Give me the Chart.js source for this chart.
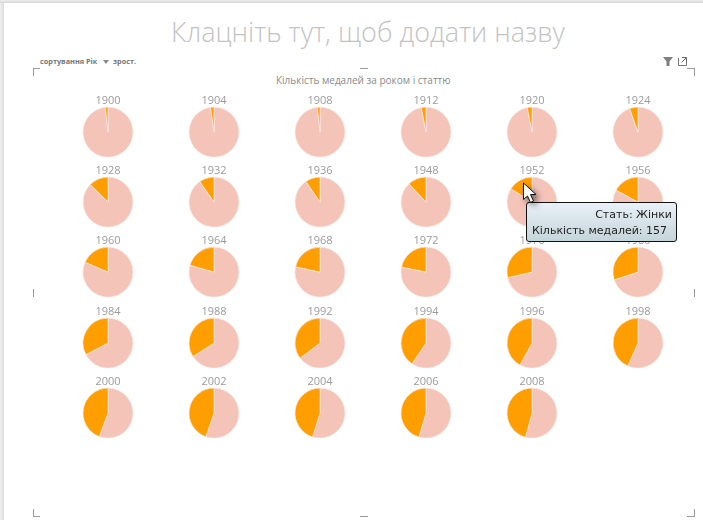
<!DOCTYPE html>
<html><head><meta charset="utf-8">
<script src="https://cdn.jsdelivr.net/npm/chart.js@4"></script>
<style>
html,body{margin:0;padding:0;width:703px;height:520px;overflow:hidden;background:#fff}
#stage{position:absolute;left:0;top:0;width:703px;height:520px;overflow:hidden;background:#fff}
.abs{position:absolute;white-space:nowrap}
canvas{position:absolute}
.mk{position:absolute;background:#9a9a9a}
#tip{position:absolute;left:526px;top:202px;width:149px;height:38px;border:1px solid #111;border-radius:3px;background:linear-gradient(#e9f1f7,#c4d5da);font:11px "DejaVu Sans",sans-serif;color:#222}
</style></head><body>
<div id="stage">
<div class="abs" style="left:0;top:0;width:4px;height:520px;background:linear-gradient(90deg,#f0f0f0,#dcdcdc)"></div>
<div class="abs" style="left:0;top:0;width:703px;height:3px;background:linear-gradient(#eee,#d6d6d6)"></div>
<div class="abs" id="title" style="left:171px;top:13px;font:300 27px 'Open Sans',sans-serif;color:#c3c3c3">Клацніть тут, щоб додати назву</div>
<div class="abs" style="left:40px;top:56px;font:bold 7.3px 'Open Sans',sans-serif;color:#777">сортування Рік</div>
<div class="abs" style="left:103px;top:60px;width:0;height:0;border-left:3px solid transparent;border-right:3px solid transparent;border-top:4px solid #888"></div>
<div class="abs" style="left:113px;top:56px;font:bold 7.3px 'Open Sans',sans-serif;color:#777">зрост.</div>
<div class="abs" id="sub" style="left:276px;top:73px;font:10px 'Open Sans',sans-serif;color:#8a8a8a">Кількість медалей за роком і статтю</div>
<svg class="abs" style="left:660px;top:54px" width="30" height="14" viewBox="0 0 30 14">
<polygon points="3,3 13,3 9.5,7.5 9.5,12 6.5,12 6.5,7.5" fill="#7f7f7f"/>
<path d="M18.5 4V11.5H26.5V8" fill="none" stroke="#777"/>
<path d="M22 3.5H26.5V8M26 4L21.5 8.5" fill="none" stroke="#666"/>
</svg>
<div class="mk" style="left:33px;top:68px;width:7px;height:1px"></div><div class="mk" style="left:33px;top:68px;width:1px;height:8px"></div>
<div class="mk" style="left:687px;top:68px;width:8px;height:1px"></div><div class="mk" style="left:694px;top:68px;width:1px;height:8px"></div>
<div class="mk" style="left:33px;top:516px;width:7px;height:1px"></div><div class="mk" style="left:33px;top:509px;width:1px;height:8px"></div>
<div class="mk" style="left:687px;top:516px;width:8px;height:1px"></div><div class="mk" style="left:694px;top:509px;width:1px;height:8px"></div>
<div class="mk" style="left:360px;top:68px;width:8px;height:1px"></div><div class="mk" style="left:360px;top:516px;width:8px;height:1px"></div>
<div class="mk" style="left:33px;top:289px;width:1px;height:8px"></div><div class="mk" style="left:694px;top:289px;width:1px;height:8px"></div>
<div id="pies"></div>
<div id="tip">
<span class="abs" style="right:4px;top:5px">Стать: Жінки</span>
<span class="abs" style="left:5px;top:21px">Кількість медалей: 157</span>
</div>
<svg class="abs" style="left:518px;top:178px;filter:drop-shadow(3px 3px 3px rgba(0,0,0,.55))" width="26" height="30" viewBox="0 0 26 30">
<polygon points="5.5,5 5.5,21.5 9.5,18 12.5,24.5 15.5,23 12.5,16.5 18,16.5" fill="#fff" stroke="#111" stroke-width="1"/>
</svg>
</div>
<script>
const years = [1900,1904,1908,1912,1920,1924,1928,1932,1936,1948,1952,1956,1960,1964,1968,1972,1976,1980,1984,1988,1992,1994,1996,1998,2000,2002,2004,2006,2008];
const women = [1.7,2.2,1.7,3,3,5.4,12.6,9.6,9.5,11.9,16,17,18.5,20.6,21.6,21.8,28.6,30,32.6,34,35.3,40.6,42,43.3,44.3,44.7,45.2,45.4,45.8];
const men   = [98.3,97.8,98.3,97,97,94.6,87.4,90.4,90.5,88.1,84,83,81.5,79.4,78.4,78.2,71.4,70,67.4,66,64.7,59.4,58,56.7,55.7,55.3,54.8,54.6,54.2];
const seriesLabels = ['Чоловіки','Жінки'];
const seriesColors = ['#F5C4B9','#FF9E00'];
const colCenters = [108,214,320,426,532,638];
const rowCenters = [132,202,272.5,343,413];
const host = document.getElementById('pies');
const W = 90, H = 70;
years.forEach((y,i)=>{
  const c = document.createElement('canvas');
  c.width = W; c.height = H;
  c.style.width = W+'px'; c.style.height = H+'px';
  const cx = colCenters[i%6], cy = rowCenters[Math.floor(i/6)];
  c.style.left = (cx-W/2)+'px';
  c.style.top = (cy-45.1)+'px';
  host.appendChild(c);
  new Chart(c,{
    type:'pie',
    data:{labels:seriesLabels,datasets:[{data:[men[i],women[i]],backgroundColor:seriesColors,borderColor:'#FBE9E4',borderWidth:0.7,radius:25}]},
    options:{responsive:false,animation:false,devicePixelRatio:1,layout:{padding:0},events:[],
      plugins:{legend:{display:false},tooltip:{enabled:false},
        title:{display:true,text:String(y),color:'#9b9b9b',font:{family:'Open Sans',size:11,weight:'normal'},padding:{top:7,bottom:0}}}}
  });
});
</script>
</body></html>
